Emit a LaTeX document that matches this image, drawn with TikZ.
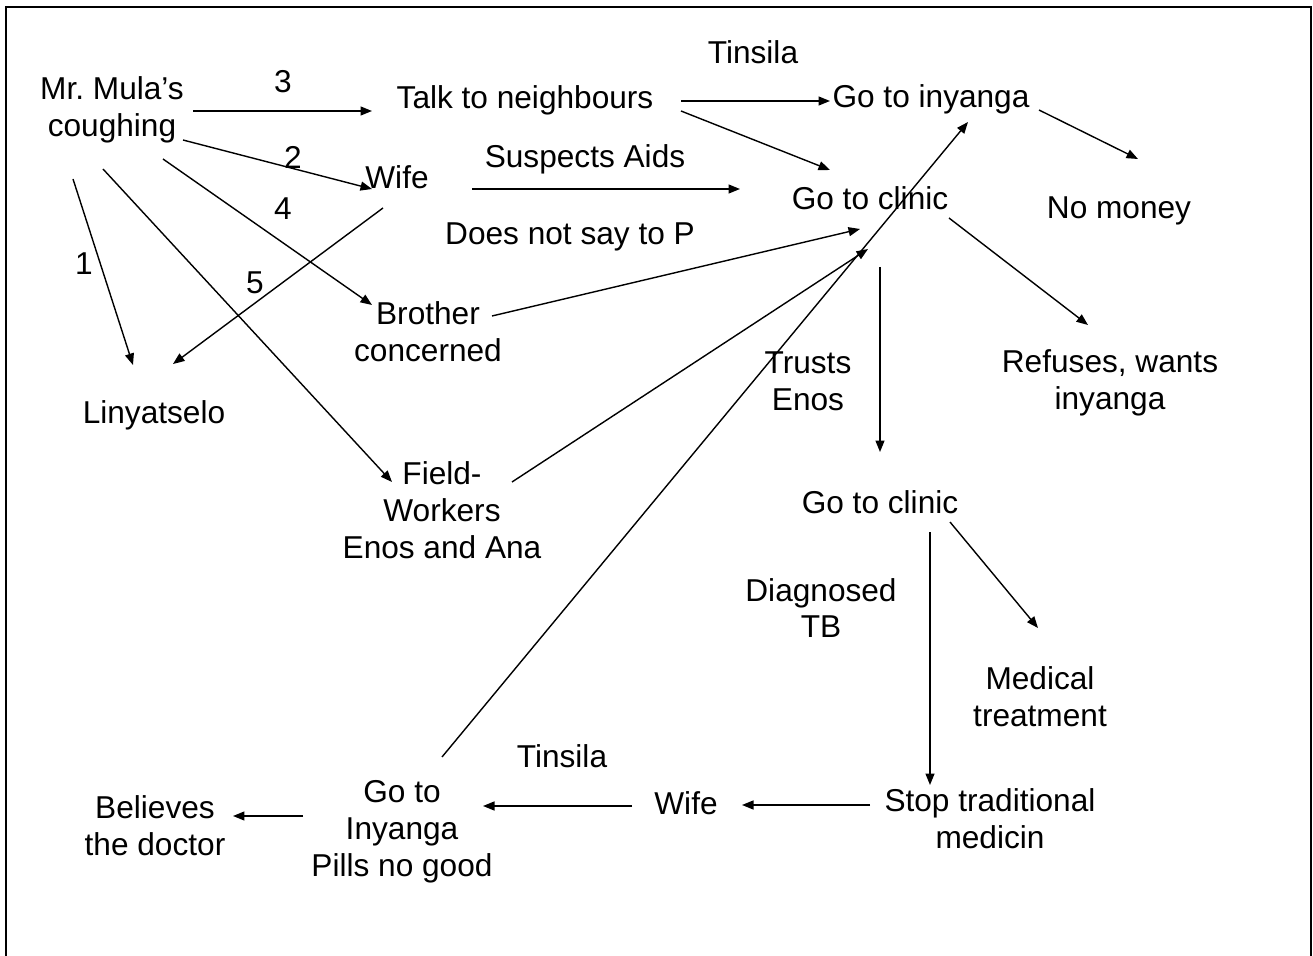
\documentclass[tikz,border=0pt]{standalone}
\usepackage{fontspec}
\setmainfont{Liberation Sans}
\usetikzlibrary{arrows.meta,calc}
\tikzset{
  txt/.style={font=\fontsize{18pt}{21pt}\selectfont, inner sep=0pt, align=center},
  arr/.style={line width=0.8pt, -{Triangle[length=0.23cm,width=0.18cm]}}
}
\begin{document}
\begin{tikzpicture}[x=0.02cm, y=-0.02cm]
      \useasboundingbox (0,0) rectangle (1313,956);
      \draw[line width=1.3pt] (6,956) -- (6,7) -- (1311,7) -- (1311,956);
      % nodes
      \path[every node/.style={txt}]
        (112,110) node (mula){Mr.\ Mula’s\\coughing}
        (525,100) node (talk){Talk to neighbours}
        (753,52) node (tinsilaA){Tinsila}
        (931,99) node (inyangaA){Go to inyanga}
        (397,177) node (wifeA){Wife}
        (585,159) node (aids){Suspects Aids}
        (570,237) node (notsay){Does not say to P}
        (870,198) node (clinicA){Go to clinic}
        (1119,211) node (money){No money}
        (428,332) node (brother){Brother\\concerned}
        (154,415) node (liny){Linyatselo}
        (808,381) node (trusts){Trusts\\Enos}
        (1110,383) node (refuses){Refuses, wants\\inyanga}
        (442,510) node (field){Field-\\Workers\\Enos and Ana}
        (880,502) node (clinicB){Go to clinic}
        (821,608) node (diag){Diagnosed\\TB}
        (1040,697) node (medical){Medical\\treatment}
        (562,756) node (tinsilaB){Tinsila}
        (402,832) node (inyangaB){Go to\\Inyanga\\Pills no good}
        (686,803) node (wifeB){Wife}
        (990,819) node (stop){Stop traditional\\medicin}
        (155,826) node (believes){Believes\\the doctor}
        (84,264) node (n1){1}
        (293,157) node (n2){2}
        (283,82) node (n3){3}
        (283,209) node (n4){4}
        (255,283) node (n5){5};
      % connectors
      \begin{scope}[arr]
        \draw ($(mula)+(81,1)$) to ($(talk)+(-153,11)$);
        \draw ($(mula)+(71,30)$) to ($(wifeA)+(-25,12)$);
        \draw ($(mula)+(51,49)$) to ($(brother)+(-56,-27)$);
        \draw ($(mula)+(-9,59)$) to ($(field)+(-50,-28)$);
        \draw ($(mula)+(-39,69)$) to ($(liny)+(-21,-50)$);
        \draw ($(wifeA)+(-14,31)$) to ($(liny)+(19,-51)$);
        \draw ($(talk)+(156,1)$) to ($(inyangaA)+(-101,2)$);
        \draw ($(talk)+(156,11)$) to ($(clinicA)+(-40,-28)$);
        \draw ($(wifeA)+(75,12)$) to ($(clinicA)+(-130,-9)$);
        \draw ($(brother)+(64,-16)$) to ($(clinicA)+(-10,31)$);
        \draw ($(field)+(70,-28)$) to ($(clinicA)+(-2,51)$);
        \draw ($(inyangaB)+(40,-75)$) to ($(inyangaA)+(37,23)$);
        \draw ($(inyangaA)+(108,11)$) to ($(money)+(19,-52)$);
        \draw ($(clinicA)+(79,20)$) to ($(refuses)+(-22,-58)$);
        \draw ($(clinicA)+(10,69)$) to ($(clinicB)+(0,-50)$);
        \draw ($(clinicB)+(70,20)$) to ($(medical)+(-2,-69)$);
        \draw ($(clinicB)+(50,30)$) to ($(stop)+(-60,-34)$);
        \draw ($(stop)+(-120,-14)$) to ($(wifeB)+(56,2)$);
        \draw ($(wifeB)+(-54,3)$) to ($(inyangaB)+(81,-26)$);
        \draw ($(inyangaB)+(-99,-16)$) to ($(believes)+(78,-10)$);
      \end{scope}
    \end{tikzpicture}
\end{document}
